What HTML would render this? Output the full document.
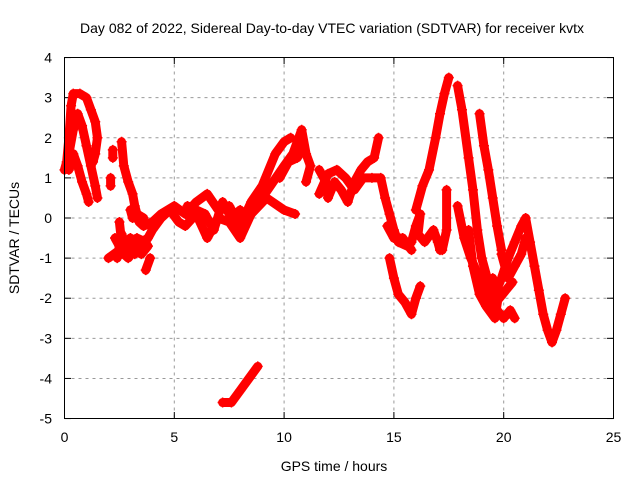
<!DOCTYPE html>
<html><head><meta charset="utf-8"><style>
body{margin:0;background:#fff}
svg{display:block;font-family:"Liberation Sans",sans-serif}
</style></head><body>
<svg id="chart" width="640" height="480">
<text x="332" y="33" font-size="14" text-anchor="middle">Day 082 of 2022, Sidereal Day-to-day VTEC variation (SDTVAR) for receiver kvtx</text>
<text x="334" y="471" font-size="14" text-anchor="middle">GPS time / hours</text>
<text transform="translate(19,238) rotate(-90)" font-size="14" text-anchor="middle">SDTVAR / TECUs</text>
<g id="grid"></g><g id="marks"></g>
<rect x="64.5" y="57.5" width="549" height="361" fill="none" stroke="#000"/>
</svg>
<script>
const xTicks=[0,5,10,15,20,25];
const yTicks=[4,3,2,1,0,-1,-2,-3,-4,-5];
const tracks=[
[[0.0,1.2],[0.1,1.4],[0.2,2.0],[0.3,2.8],[0.4,3.1],[0.7,3.1],[1.0,3.0],[1.2,2.7],[1.4,2.4],[1.5,2.0],[1.4,1.6],[1.3,1.4]],
[[0.2,1.6],[0.4,2.2],[0.6,2.6],[0.8,2.3],[1.0,1.8],[1.2,1.3],[1.4,0.8],[1.5,0.5]],
[[0.2,1.2],[0.4,1.6],[0.6,1.3],[0.8,0.9],[1.0,0.6],[1.1,0.4]],
[[2.1,0.8],[2.1,1.0]],[[2.2,1.5],[2.2,1.7]],
[[2.6,1.9],[2.7,1.3],[2.9,0.9],[3.1,0.6],[3.2,0.3],[3.4,-0.1],[3.6,-0.2],[4.0,-0.1],[4.4,0.1],[5.0,0.3],[5.5,0.1],[6.0,0.4],[6.5,0.6],[7.0,0.2],[7.5,0.3],[8.0,-0.2],[8.5,0.4],[9.0,0.8],[9.6,1.6],[10.0,1.9],[10.3,2.0]],
[[2.4,-1.0],[2.6,-0.4],[2.8,-0.7],[3.2,-0.9],[3.5,-0.6],[3.8,-0.5],[4.0,-0.3],[4.4,0.0],[4.8,0.2],[5.2,-0.1],[5.5,-0.2],[6.0,0.1],[6.5,-0.5],[7.0,0.0],[7.5,-0.1],[8.0,-0.5],[8.5,0.1],[9.0,0.5],[9.5,0.9],[10.0,1.3],[10.4,1.6],[10.6,1.9],[10.8,2.2],[11.0,1.6],[11.2,1.3],[11.0,0.9]],
[[2.0,-1.0],[2.5,-0.8],[3.0,-0.5],[3.3,-0.7]],
[[2.5,-0.1],[2.6,-0.6],[2.7,-0.9],[2.9,-1.0],[3.2,-0.8],[3.5,-0.9],[3.8,-0.7]],
[[2.3,-0.5],[2.5,-0.7],[2.9,-0.6],[3.3,-0.5],[3.7,-0.6]],
[[3.7,-1.3],[3.9,-1.0]],
[[3.0,0.2],[3.1,0.0],[3.3,0.1],[3.6,0.0]],
[[5.6,0.3],[6.0,0.2],[6.4,0.1],[6.8,-0.3],[7.2,0.4],[7.6,0.0],[8.0,0.2],[8.3,0.0]],
[[8.5,0.1],[9.2,0.5],[10.0,0.2],[10.5,0.1]],
[[9.8,1.0],[10.2,1.4],[10.6,1.5],[10.9,1.8]],
[[7.2,-4.6],[7.6,-4.6],[8.0,-4.3],[8.4,-4.0],[8.8,-3.7]],
[[11.6,1.2],[11.9,0.9],[12.0,0.5],[12.3,0.9],[12.6,0.7],[12.9,0.4],[13.2,0.9],[13.5,1.2],[13.8,1.4],[14.1,1.5],[14.3,2.0]],
[[11.6,0.6],[12.0,1.1],[12.4,1.2],[12.8,1.0],[13.2,0.7],[13.6,1.0],[14.0,1.0],[14.4,1.0],[14.6,0.5],[14.8,0.1],[15.0,-0.3],[15.2,-0.6],[15.6,-0.7],[15.8,-0.6],[16.0,-0.2],[16.2,0.1],[16.1,-0.4],[16.4,-0.6],[16.8,-0.3],[17.0,-0.6],[17.1,-0.8]],
[[14.7,-0.2],[15.0,-0.5],[15.4,-0.5],[15.8,-0.8]],
[[16.0,0.2],[16.3,0.8],[16.6,1.2],[16.9,2.0],[17.1,2.6],[17.3,3.1],[17.5,3.5]],
[[17.9,3.3],[18.1,2.7],[18.4,1.5],[18.6,0.7],[18.8,-0.3],[19.0,-1.0],[19.3,-1.6],[19.5,-2.3]],
[[18.9,2.6],[19.1,1.8],[19.3,1.2],[19.5,0.5],[19.7,-0.2],[19.9,-0.8]],
[[17.4,0.7],[17.4,-0.3],[17.2,-0.8]],
[[17.9,0.3],[18.2,-0.5],[18.5,-1.0],[18.9,-1.5],[19.3,-2.0],[19.7,-2.3],[20.0,-2.5],[20.3,-2.3],[20.5,-2.5]],
[[18.4,-0.3],[18.6,-1.2],[18.9,-1.9],[19.2,-2.2],[19.6,-2.5],[19.8,-1.8]],
[[19.6,-1.9],[19.9,-1.5],[20.2,-1.0],[20.5,-0.6],[20.8,-0.2],[21.0,0.0],[21.2,-0.6],[21.4,-1.2],[21.6,-1.8],[21.8,-2.4],[22.0,-2.8],[22.2,-3.1],[22.4,-2.8],[22.6,-2.4],[22.8,-2.0]],
[[19.9,-0.9],[20.2,-1.5],[20.5,-1.2],[20.8,-0.9],[21.0,-0.5]],
[[19.5,-1.5],[19.8,-2.0],[20.1,-1.8],[20.4,-1.6]],
[[14.8,-1.0],[15.0,-1.5],[15.2,-1.9],[15.5,-2.1],[15.8,-2.4],[16.0,-2.0],[16.2,-1.7]]
];
const NS="http://www.w3.org/2000/svg";
const X=h=>64.5+h*549/25, Y=v=>218-v*40.11;
const grid=document.getElementById('grid'), marks=document.getElementById('marks');
function mk(tag,at,parent){const e=document.createElementNS(NS,tag);for(const k in at)e.setAttribute(k,at[k]);parent.appendChild(e);return e;}
xTicks.forEach(t=>{
 const x=X(t);
 if(t>0&&t<25){const l=mk('line',{x1:x,x2:x,y1:57.5,y2:418.5,stroke:'#999','stroke-dasharray':'3,4'},grid);
 
 }
 mk('line',{x1:x,x2:x,y1:418.5,y2:412,stroke:'#000'},grid);
 mk('line',{x1:x,x2:x,y1:57.5,y2:64,stroke:'#000'},grid);
 const tx=mk('text',{x:x,y:442,'font-size':14,'text-anchor':'middle'},grid);tx.textContent=t;
 
 
});
yTicks.forEach(t=>{
 const y=Y(t);
 if(t<4&&t>-5){const l=mk('line',{x1:64.5,x2:613.5,y1:y,y2:y,stroke:'#999','stroke-dasharray':'3,4'},grid);
 
 }
 mk('line',{x1:64.5,x2:71,y1:y,y2:y,stroke:'#000'},grid);
 mk('line',{x1:613.5,x2:607,y1:y,y2:y,stroke:'#000'},grid);
 const tx=mk('text',{x:52,y:y+5,'font-size':14,'text-anchor':'end'},grid);tx.textContent=t;
 
 
});
tracks.forEach(tr=>{
 const pl=mk('polyline',{points:tr.map(p=>X(p[0])+','+Y(p[1])).join(' '),fill:'none',stroke:'#f00','stroke-width':9,'stroke-linejoin':'round','stroke-linecap':'round'},marks);
 
 
 tr.forEach(p=>{
  const x=X(p[0]),y=Y(p[1]);
  const m=mk('path',{d:`M${x-5},${y}H${x+5}M${x},${y-5}V${y+5}`,stroke:'#f00','stroke-width':1.5},marks);
  
  
 });
});
</script>
</body></html>
